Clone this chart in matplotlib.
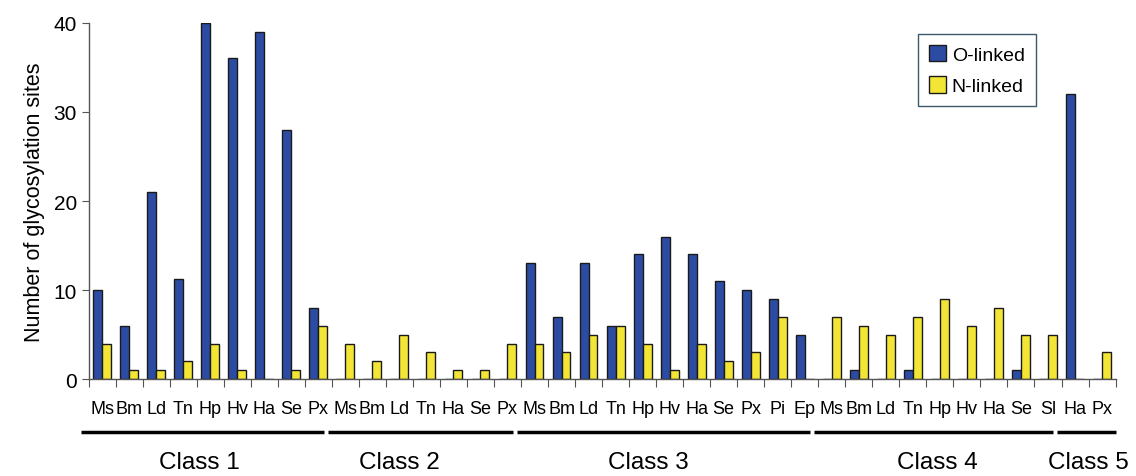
import matplotlib.pyplot as plt
import matplotlib.transforms as mtransforms
import numpy as np

plt.rcParams['font.family'] = ['Liberation Sans', 'DejaVu Sans']

# Data
classes = ['Class 1', 'Class 2', 'Class 3', 'Class 4', 'Class 5']
species = [
    ['Ms', 'Bm', 'Ld', 'Tn', 'Hp', 'Hv', 'Ha', 'Se', 'Px'],
    ['Ms', 'Bm', 'Ld', 'Tn', 'Ha', 'Se', 'Px'],
    ['Ms', 'Bm', 'Ld', 'Tn', 'Hp', 'Hv', 'Ha', 'Se', 'Px', 'Pi', 'Ep'],
    ['Ms', 'Bm', 'Ld', 'Tn', 'Hp', 'Hv', 'Ha', 'Se', 'Sl'],
    ['Ha', 'Px'],
]
o_linked = [
    [10, 6, 21, 11.2, 40, 36, 39, 28, 8],
    [0, 0, 0, 0, 0, 0, 0],
    [13, 7, 13, 6, 14, 16, 14, 11, 10, 9, 5],
    [0, 1, 0, 1, 0, 0, 0, 1, 0],
    [32, 0],
]
n_linked = [
    [4, 1, 1, 2, 4, 1, 0, 1, 6],
    [4, 2, 5, 3, 1, 1, 4],
    [4, 3, 5, 6, 4, 1, 4, 2, 3, 7, 0],
    [7, 6, 5, 7, 9, 6, 8, 5, 5],
    [0, 3],
]

labels = [s for grp in species for s in grp]
o_vals = np.array([v for grp in o_linked for v in grp], dtype=float)
n_vals = np.array([v for grp in n_linked for v in grp], dtype=float)
x = np.arange(len(labels)) + 0.5

blue = '#2C4BA3'
yellow = '#F2E535'
edge = '#1a1a1a'

fig = plt.figure(figsize=(11.36, 4.77), dpi=100)
ax = fig.add_axes([0.078, 0.203, 0.904, 0.747])

w = 0.33
ax.bar(x - w / 2, o_vals, w, color=blue, edgecolor=edge, linewidth=1.0, label='O-linked')
ax.bar(x + w / 2, n_vals, w, color=yellow, edgecolor=edge, linewidth=1.0, label='N-linked')

ax.set_xlim(0, len(labels))
ax.set_ylim(0, 40)
ax.set_yticks([0, 10, 20, 30, 40])
ax.tick_params(axis='y', labelsize=15, length=5, color='#555555', direction='out')
ax.set_ylabel('Number of glycosylation sites', fontsize=15.5, labelpad=6)

# ticks at category boundaries, labels at centres
ax.set_xticks(np.arange(len(labels) + 1))
ax.set_xticklabels([])
ax.set_xticks(x, minor=True)
ax.set_xticklabels(labels, minor=True, fontsize=13)
ax.tick_params(axis='x', which='major', length=6, color='#555555')
ax.tick_params(axis='x', which='minor', length=0, pad=15)

for side in ['top', 'right']:
    ax.spines[side].set_visible(False)
for side in ['left', 'bottom']:
    ax.spines[side].set_color('#555555')
    ax.spines[side].set_linewidth(1.0)

# class underlines and names
trans = mtransforms.blended_transform_factory(ax.transData, ax.transAxes)
start = 0
offsets = [-0.4, -1.0, -0.8, -0.1, 0.0]
for i, (cls, grp) in enumerate(zip(classes, species)):
    end = start + len(grp)
    x0 = start - 0.3 if i == 0 else start - 0.15
    x1 = end - 0.3 if i < len(classes) - 1 else end
    ax.plot([x0, x1], [-0.149, -0.149], color='black', linewidth=2.5,
            transform=trans, clip_on=False, solid_capstyle='butt')
    ax.text((start + end) / 2 + offsets[i], -0.232, cls, transform=trans,
            ha='center', va='center', fontsize=17.5)
    start = end

leg = ax.legend(loc='upper left', bbox_to_anchor=(0.798, 0.995), fontsize=14,
                handlelength=0.9, handleheight=0.9, handletextpad=0.3,
                fancybox=False, edgecolor='#3a5a6a', framealpha=1,
                borderpad=0.55, labelspacing=0.65)
leg.get_frame().set_linewidth(1.0)

plt.savefig('out.png', dpi=100, facecolor='white')
